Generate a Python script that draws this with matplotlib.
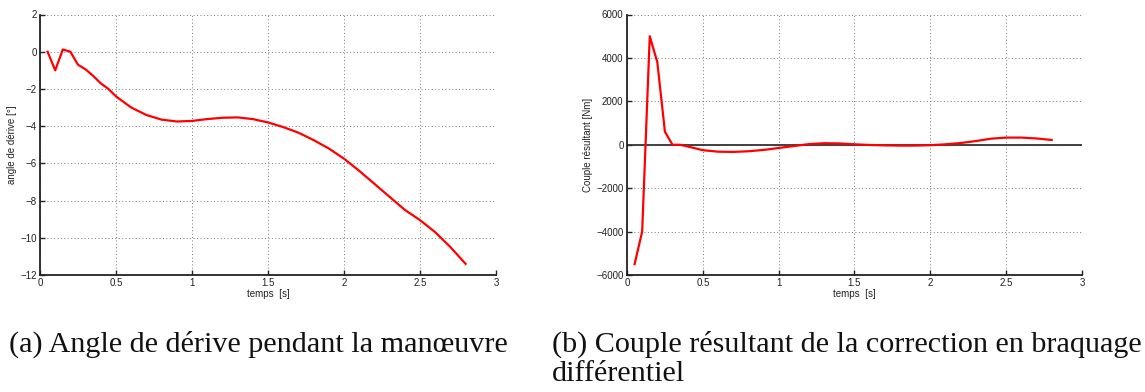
import matplotlib
matplotlib.use("Agg")
import matplotlib.pyplot as plt

t_a = [0.05, 0.10, 0.15, 0.20, 0.25, 0.30, 0.35, 0.40, 0.45, 0.50, 0.60, 0.70, 0.80, 0.90,
       1.00, 1.10, 1.20, 1.30, 1.40, 1.50, 1.60, 1.70, 1.80, 1.90, 2.00, 2.10, 2.20, 2.30,
       2.40, 2.50, 2.60, 2.70, 2.80]
derive = [0.0, -1.0, 0.12, 0.0, -0.7, -0.95, -1.3, -1.7, -2.0, -2.4, -3.0, -3.4, -3.65, -3.75,
          -3.72, -3.62, -3.55, -3.53, -3.62, -3.8, -4.05, -4.35, -4.75, -5.2, -5.75, -6.4, -7.1, -7.8,
          -8.5, -9.05, -9.7, -10.5, -11.4]

t_b = [0.05, 0.10, 0.15, 0.20, 0.25, 0.30, 0.35, 0.40, 0.50, 0.60, 0.70, 0.80, 0.90,
       1.00, 1.10, 1.20, 1.30, 1.40, 1.50, 1.60, 1.70, 1.80, 1.90, 2.00, 2.10, 2.20, 2.30,
       2.40, 2.50, 2.60, 2.70, 2.80]
couple = [-5500, -4000, 5000, 3800, 600, 0, 0, -80, -250, -320, -330, -300, -240,
          -150, -60, 30, 70, 60, 20, -10, -30, -40, -40, -20, 20, 80, 170,
          280, 330, 330, 290, 220]

xticks = [0, 0.5, 1, 1.5, 2, 2.5, 3]
xticklabels = ["0", "0.5", "1", "1.5", "2", "2.5", "3"]
yticks_a = [-12, -10, -8, -6, -4, -2, 0, 2]
yticks_b = [-6000, -4000, -2000, 0, 2000, 4000, 6000]

caption_a = "(a) Angle de dérive pendant la manœuvre"
caption_b = ["(b) Couple résultant de la correction en braquage", "différentiel"]

W, H = 1145, 392
fig = plt.figure(figsize=(W / 100, H / 100), dpi=100)
SANS = "Liberation Sans"
SERIF = "Liberation Serif"


def style(ax, yticks, ylim, ylabel):
    ax.set_xlim(0, 3)
    ax.set_ylim(*ylim)
    ax.set_xticks(xticks)
    ax.set_xticklabels(xticklabels)
    ax.set_yticks(yticks)
    ax.set_yticklabels([str(v).replace("-", "\u2212") for v in yticks])
    ax.grid(True, linestyle=(0, (1, 2.5)), color="#777777", linewidth=0.7)
    ax.spines["top"].set_visible(False)
    ax.spines["right"].set_visible(False)
    for s in ("left", "bottom"):
        ax.spines[s].set_linewidth(1.3)
        ax.spines[s].set_color("#222222")
    ax.tick_params(direction="in", length=3.5, width=1, labelsize=7, pad=2.5,
                   colors="#222222")
    ax.set_xlabel("temps  [s]", fontsize=7, labelpad=0.5, family=SANS, color="#222222")
    ax.set_ylabel(ylabel, fontsize=7, labelpad=2, family=SANS, color="#222222")
    for lab in ax.get_xticklabels() + ax.get_yticklabels():
        lab.set_fontfamily(SANS)


top, bot = 14.5, 275
ax1 = fig.add_axes([40 / W, 1 - bot / H, (496 - 40) / W, (bot - top) / H])
ax1.plot(t_a, derive, color="#ff0000", linewidth=1.6)
style(ax1, yticks_a, (-12, 2), "angle de dérive [°]")

ax2 = fig.add_axes([627 / W, 1 - bot / H, (1082 - 627) / W, (bot - top) / H])
ax2.axhline(0, color="#333333", linewidth=1.3, zorder=2)
ax2.plot(t_b, couple, color="#ff0000", linewidth=1.6, zorder=3)
style(ax2, yticks_b, (-6000, 6000), "Couple résultant [Nm]")

# fit caption font size to the reference caption width
renderer = fig.canvas.get_renderer()
probe = fig.text(0, 0, caption_a, fontsize=10, family=SERIF)
w10 = probe.get_window_extent(renderer).width
probe.remove()
cap_size = 10 * 499 / w10

fig.text(9 / W, 1 - 352 / H, caption_a, fontsize=cap_size, family=SERIF,
         va="baseline", ha="left", color="#111111")
fig.text(552 / W, 1 - 352 / H, caption_b[0], fontsize=cap_size, family=SERIF,
         va="baseline", ha="left", color="#111111")
fig.text(552 / W, 1 - 381 / H, caption_b[1], fontsize=cap_size, family=SERIF,
         va="baseline", ha="left", color="#111111")

fig.savefig("out.png", dpi=100)
